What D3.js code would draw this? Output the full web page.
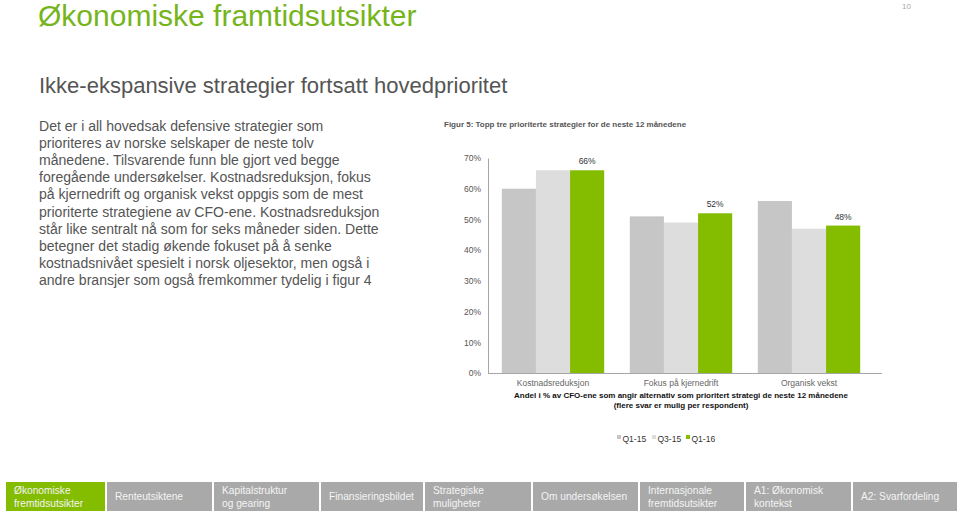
<!DOCTYPE html>
<html><head><meta charset="utf-8">
<script src="https://cdn.jsdelivr.net/npm/d3@7/dist/d3.min.js"></script>
<style>
body{margin:0;background:#fff;}
svg{display:block;font-family:"Liberation Sans",Arial,sans-serif;}
</style></head>
<body><svg id="c" width="959" height="512"></svg>
<script>
const categories = ["Kostnadsreduksjon", "Fokus på kjernedrift", "Organisk vekst"];
const seriesNames = ["Q1-15", "Q3-15", "Q1-16"];
const q1_15 = [60, 51, 56];
const q3_15 = [66, 49, 47];
const q1_16 = [66, 52, 48];
const yTicks = [0, 10, 20, 30, 40, 50, 60, 70];
const colors = ["#c6c6c6", "#dddddd", "#84bc00"];
const navTabs = [["Økonomiske","fremtidsutsikter"],["Renteutsiktene"],["Kapitalstruktur","og gearing"],["Finansieringsbildet"],["Strategiske","muligheter"],["Om undersøkelsen"],["Internasjonale","fremtidsutsikter"],["A1: Økonomisk","kontekst"],["A2: Svarfordeling"]];
const bodyLines = [
"Det er i all hovedsak defensive strategier som",
"prioriteres av norske selskaper de neste tolv",
"månedene. Tilsvarende funn ble gjort ved begge",
"foregående undersøkelser. Kostnadsreduksjon, fokus",
"på kjernedrift og organisk vekst oppgis som de mest",
"prioriterte strategiene av CFO-ene. Kostnadsreduksjon",
"står like sentralt nå som for seks måneder siden. Dette",
"betegner det stadig økende fokuset på å senke",
"kostnadsnivået spesielt i norsk oljesektor, men også i",
"andre bransjer som også fremkommer tydelig i figur 4"];
const seriesData = [q1_15, q3_15, q1_16];

const svg = d3.select("#c");

svg.append("text").attr("x",38).attr("y",26).attr("fill","#76b41c")
  .attr("font-size",30).text("Økonomiske framtidsutsikter");
svg.append("text").attr("x",911).attr("y",9).attr("fill","#aaa")
  .attr("font-size",8).attr("text-anchor","end").text("10");
svg.append("text").attr("x",39).attr("y",93).attr("fill","#555")
  .attr("font-size",22).text("Ikke-ekspansive strategier fortsatt hovedprioritet");

svg.append("g").selectAll("text").data(bodyLines).join("text")
  .attr("x",39).attr("y",(d,i)=>131+i*17.1).attr("fill","#555")
  .attr("font-size",14.05).text(d=>d);

svg.append("text").attr("x",444).attr("y",127).attr("fill","#555")
  .attr("font-size",8).attr("font-weight","bold")
  .text("Figur 5: Topp tre prioriterte strategier for de neste 12 månedene");

const y = d3.scaleLinear().domain([0,70]).range([373,158]);
const x0 = d3.scaleBand().domain(categories).range([489,873]).paddingInner(0.2).paddingOuter(0.1);
const x1 = d3.scaleBand().domain(seriesNames).range([0,x0.bandwidth()]);

// y axis
const ya = svg.append("g").attr("transform","translate(488,0)")
  .call(d3.axisLeft(y).tickValues(yTicks).tickSize(0).tickPadding(7).tickFormat(d=>d+"%"));
ya.select(".domain").attr("stroke","#a6a6a6");
ya.selectAll("text").attr("fill","#555").attr("font-size",8.5).attr("font-family","Liberation Sans, Arial, sans-serif");

const rows = categories.map((c,i)=>({c, vals: seriesNames.map((s,j)=>({s, v: seriesData[j][i], j}))}));
const g = svg.append("g");
g.selectAll("g").data(rows).join("g").attr("transform",d=>`translate(${x0(d.c)},0)`)
  .selectAll("rect").data(d=>d.vals).join("rect")
  .attr("x",d=>x1(d.s)).attr("width",x1.bandwidth())
  .attr("y",d=>y(d.v)).attr("height",d=>y(0)-y(d.v))
  .attr("fill",d=>colors[d.j]);

// data labels for last series
svg.append("g").selectAll("text").data(categories).join("text")
  .attr("x",(c)=>x0(c)+x1("Q1-16")+x1.bandwidth()/2)
  .attr("y",(c,i)=>y(q1_16[i])-6).attr("text-anchor","middle")
  .attr("font-size",8.5).attr("fill","#333").text((c,i)=>q1_16[i]+"%");

// x axis baseline
svg.append("line").attr("x1",488).attr("x2",x0.range()[1]+9)
  .attr("y1",y(0)+0.5).attr("y2",y(0)+0.5).attr("stroke","#a6a6a6");

svg.append("g").selectAll("text").data(categories).join("text")
  .attr("x",c=>x0(c)+x0.bandwidth()/2).attr("y",386).attr("text-anchor","middle")
  .attr("font-size",8.5).attr("fill","#666").text(c=>c);

svg.append("text").attr("x",681).attr("y",398).attr("text-anchor","middle")
  .attr("font-size",8).attr("font-weight","bold").attr("fill","#111")
  .text("Andel i % av CFO-ene som angir alternativ som prioritert strategi de neste 12 månedene");
svg.append("text").attr("x",681).attr("y",408).attr("text-anchor","middle")
  .attr("font-size",8).attr("font-weight","bold").attr("fill","#111")
  .text("(flere svar er mulig per respondent)");

// legend
const lx = [617, 652, 686];
const lg = svg.append("g").selectAll("g").data(seriesNames).join("g")
  .attr("transform",(d,i)=>`translate(${lx[i]},439)`);
lg.append("rect").attr("x",0).attr("y",-4).attr("width",4).attr("height",4).attr("fill",(d,i)=>colors[i]);
lg.append("text").attr("x",5.5).attr("y",2.5).attr("font-size",8.5).attr("fill","#333").text(d=>d);

// nav tabs
const tabX = [6,107,214,321,425,533,640,746,853];
const nav = svg.append("g").selectAll("g").data(navTabs).join("g")
  .attr("transform",(d,i)=>`translate(${tabX[i]},482)`);
nav.append("rect").attr("width",(d,i)=>(i<8?tabX[i+1]-2:957)-tabX[i]).attr("height",29)
  .attr("fill",(d,i)=>i===0?"#84bc00":"#a9a9a9");
nav.each(function(d){
  const t = d3.select(this).append("text").attr("x",8).attr("fill","#f4f4f4").attr("font-size",10.2);
  if(d.length===1){ t.append("tspan").attr("x",8).attr("y",18).text(d[0]); }
  else { t.append("tspan").attr("x",8).attr("y",11.5).text(d[0]); t.append("tspan").attr("x",8).attr("y",24.5).text(d[1]); }
});
</script></body></html>
